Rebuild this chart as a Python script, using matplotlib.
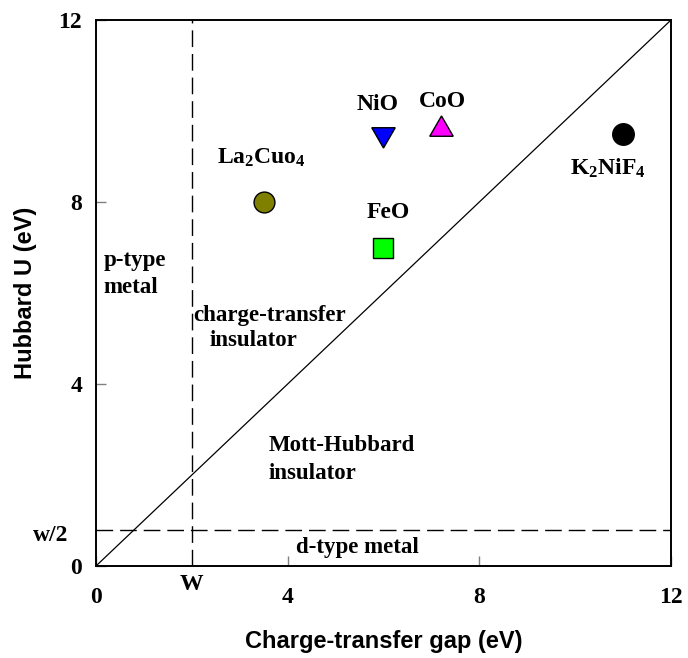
import matplotlib.pyplot as plt

plt.rcParams["font.family"] = ["Liberation Serif", "DejaVu Serif"]
plt.rcParams["font.weight"] = "bold"
plt.rcParams["mathtext.default"] = "regular"

# compounds: charge-transfer gap, Hubbard U
compounds = ["La$_2$Cuo$_4$", "NiO", "CoO", "FeO", "K$_2$NiF$_4$"]
gap = [3.5, 6.0, 7.2, 6.0, 11.0]
hubbard_u = [8.0, 9.5, 9.6, 7.0, 9.5]
colors = ["#808000", "#0000ff", "#ff00ff", "#00ff00", "#000000"]
markers = ["o", (3, 0, 180), (3, 0, 0), "s", "o"]
sizes = [15, 19.5, 19.5, 14, 15.5]

# where the compound names go
label_x = [3.46, 5.88, 7.24, 6.09, 10.68]
label_y = [8.97, 10.14, 10.2, 7.77, 8.73]

band_w = 2.0
half_w = 0.8

regions = ["p-type", "metal", "charge-transfer", "insulator",
           "Mott-Hubbard", "insulator", "d-type metal"]
region_x = [0.15, 0.15, 2.02, 2.38, 3.61, 3.61, 4.17]
region_y = [6.60, 5.99, 5.38, 4.83, 2.52, 1.91, 0.29]

fig = plt.figure(figsize=(6.88, 6.58), dpi=100)
ax = fig.add_axes([0.1395, 0.1398, 0.8358, 0.8298])

ax.plot([0, 12], [0, 12], color="black", lw=0.9)
ax.axvline(band_w, color="black", lw=1, dashes=(12, 5))
ax.axhline(half_w, color="black", lw=1, dashes=(12, 5))

for x, y, c, m, s in zip(gap, hubbard_u, colors, markers, sizes):
    ax.plot(x, y, marker=m, ms=s, color=c, mec="black", mew=1, ls="none")

for name, x, y in zip(compounds, label_x, label_y):
    ax.text(x, y, name, fontsize=17, ha="center", va="center")

for txt, x, y in zip(regions, region_x, region_y):
    ax.text(x, y, txt, fontsize=16.5, ha="left", va="baseline")

ax.text(band_w, -0.41, "W", fontsize=17, ha="center", va="center", clip_on=False)
ax.text(-0.58, 0.66, "w/2", fontsize=17, ha="right", va="center", clip_on=False)

ax.set_xlim(0, 12)
ax.set_ylim(0, 12)
ax.set_xticks([0, 4, 8, 12])
ax.set_yticks([0, 4, 8, 12])
ax.tick_params(direction="in", length=7, width=1, color="gray", labelsize=17)
ax.tick_params(axis="x", pad=15)
ax.tick_params(axis="y", pad=10)
for sp in ax.spines.values():
    sp.set_linewidth(1.4)

ax.set_xlabel("Charge-transfer gap (eV)", family="Liberation Sans",
              fontsize=17, fontweight="bold")
ax.set_ylabel("Hubbard U (eV)", family="Liberation Sans",
              fontsize=17, fontweight="bold")
ax.xaxis.set_label_coords(0.5, -0.117)
ax.yaxis.set_label_coords(-0.103, 0.5)

plt.savefig("out.png")
